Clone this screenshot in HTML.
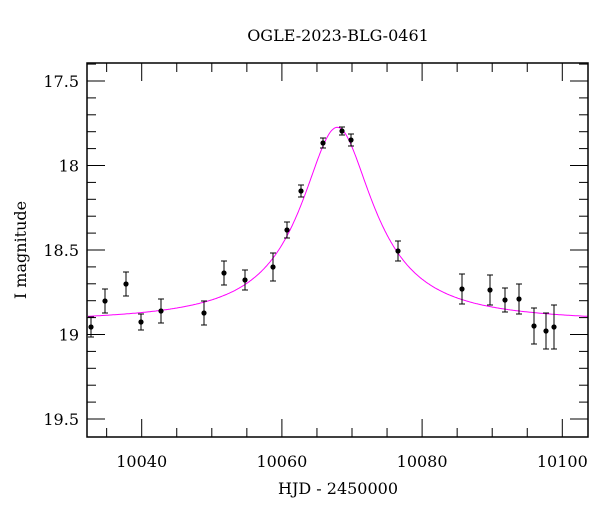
<!DOCTYPE html>
<html><head><style>body{margin:0;background:#fff}svg{display:block}text{font-family:"DejaVu Serif",serif;fill:#000}</style></head>
<body>
<svg id="s" width="600" height="512" xmlns="http://www.w3.org/2000/svg">
<text x="338" y="41" font-size="16" text-anchor="middle">OGLE-2023-BLG-0461</text>
<text x="338" y="494" font-size="16" text-anchor="middle">HJD - 2450000</text>
<text transform="translate(26,250) rotate(-90)" font-size="16" text-anchor="middle">I magnitude</text>
<g id="g"></g>
<rect x="87" y="63" width="501" height="374" fill="none" stroke="#000" stroke-width="1.5"/>
</svg>
<script>
var g=document.getElementById('g'),h='';
function X(t){return 141.7+(t-10040)*7.01;}
function Y(m){return 81+(m-17.5)*169;}
for(var t=10035;t<=10100;t+=5){var x=X(t);var big=t%20==0;
h+='<line x1="'+x+'" y1="437" x2="'+x+'" y2="'+(437-(big?18:9))+'" stroke="#000"/>';
h+='<line x1="'+x+'" y1="63" x2="'+x+'" y2="'+(63+(big?18:9))+'" stroke="#000"/>';
if(big)h+='<text x="'+x+'" y="467" font-size="16" text-anchor="middle">'+t+'</text>';}
for(var i=0;i<=21;i++){var m=17.4+i*0.1;var y=Y(m);if(y<63||y>437)continue;var big=Math.abs(m*2-Math.round(m*2))<1e-6;
h+='<line x1="87" y1="'+y+'" x2="'+(87+(big?18:9))+'" y2="'+y+'" stroke="#000"/>';
h+='<line x1="588" y1="'+y+'" x2="'+(588-(big?18:9))+'" y2="'+y+'" stroke="#000"/>';
if(big)h+='<text x="79" y="'+(y+6)+'" font-size="16" text-anchor="end">'+(+m.toFixed(1))+'</text>';}
var p='';for(var x=88;x<=588;x+=1){var t=10040+(x-141.7)/7.01,d=(t-10067.9)/4.9;var F=1+1.9/(1+d*d);var m=18.93-2.5*Math.log10(F);p+=(x==88?'M':'L')+x+','+Y(m).toFixed(1);}
h+='<path d="'+p+'" fill="none" stroke="#f0f" stroke-width="1"/>';
var D=[[91,327,10],[105,301,12],[126,284,12],[141,322,8],[161,311,12],[204,313,12],[224,273,12],[245,280,10],[273,267,14],[287,230,8],[301,191,6],[323,143,5],[342,131,4],[351,140,6],[398,251,10],[462,289,15],[490,290,15],[505,300,12],[519,299,15],[534,326,18],[546,331,18],[554,327,22]];
D.forEach(function(d){h+='<line x1="'+d[0]+'" y1="'+(d[1]-d[2])+'" x2="'+d[0]+'" y2="'+(d[1]+d[2])+'" stroke="#000"/>';
h+='<line x1="'+(d[0]-3)+'" y1="'+(d[1]-d[2])+'" x2="'+(d[0]+3)+'" y2="'+(d[1]-d[2])+'" stroke="#000"/>';
h+='<line x1="'+(d[0]-3)+'" y1="'+(d[1]+d[2])+'" x2="'+(d[0]+3)+'" y2="'+(d[1]+d[2])+'" stroke="#000"/>';
h+='<circle cx="'+d[0]+'" cy="'+d[1]+'" r="2.6" fill="#000"/>';});
g.innerHTML=h;
</script>
</body></html>
